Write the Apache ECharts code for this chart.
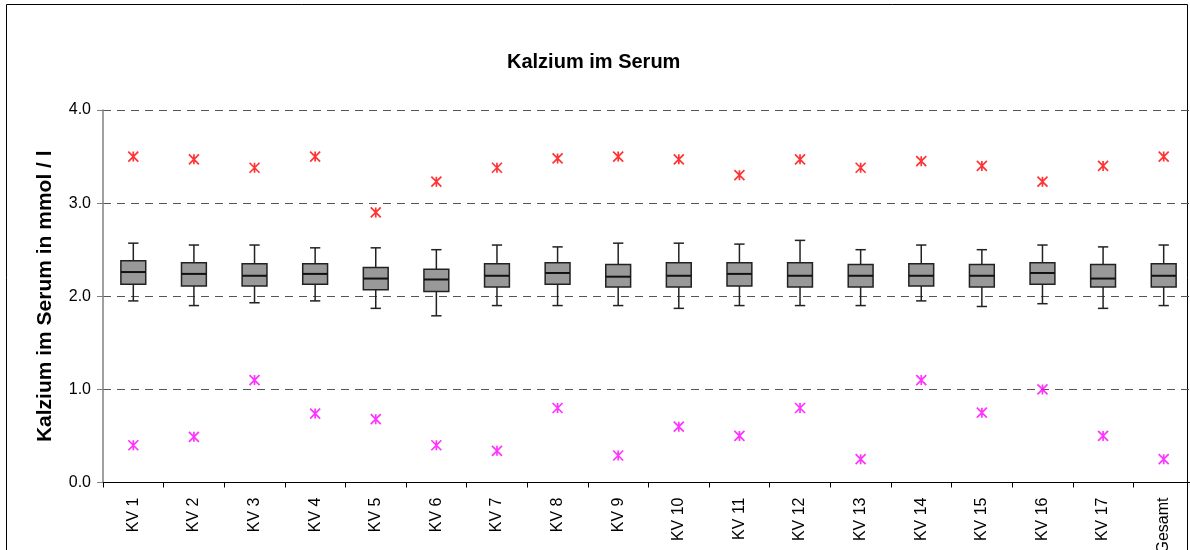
<!DOCTYPE html>
<html>
<head>
<meta charset="utf-8">
<script src="https://cdn.jsdelivr.net/npm/echarts@6/dist/echarts.min.js"></script>
<style>
  html, body { margin: 0; padding: 0; background: #fff; }
  #main { width: 1190px; height: 550px; }
</style>
</head>
<body>
<div id="main"></div>
<script>
var categories = ['KV 1', 'KV 2', 'KV 3', 'KV 4', 'KV 5', 'KV 6', 'KV 7', 'KV 8', 'KV 9',
  'KV 10', 'KV 11', 'KV 12', 'KV 13', 'KV 14', 'KV 15', 'KV 16', 'KV 17', 'Gesamt'];

// box plot parts, mmol / l
var whiskerHigh = [2.57, 2.55, 2.55, 2.52, 2.52, 2.50, 2.55, 2.53, 2.57, 2.57, 2.56, 2.60, 2.50, 2.55, 2.50, 2.55, 2.53, 2.55];
var q3 = [2.38, 2.36, 2.35, 2.35, 2.31, 2.29, 2.35, 2.36, 2.34, 2.36, 2.36, 2.36, 2.34, 2.35, 2.34, 2.36, 2.34, 2.35];
var median = [2.26, 2.24, 2.22, 2.24, 2.19, 2.18, 2.22, 2.25, 2.21, 2.22, 2.24, 2.22, 2.22, 2.22, 2.22, 2.25, 2.19, 2.22];
var q1 = [2.13, 2.11, 2.11, 2.13, 2.07, 2.05, 2.10, 2.13, 2.10, 2.10, 2.11, 2.10, 2.10, 2.11, 2.10, 2.13, 2.10, 2.10];
var whiskerLow = [1.95, 1.90, 1.93, 1.95, 1.87, 1.79, 1.90, 1.90, 1.90, 1.87, 1.90, 1.90, 1.90, 1.95, 1.89, 1.92, 1.87, 1.90];

// extreme values
var maxVals = [3.50, 3.47, 3.38, 3.50, 2.90, 3.23, 3.38, 3.48, 3.50, 3.47, 3.30, 3.47, 3.38, 3.45, 3.40, 3.23, 3.40, 3.50];
var minVals = [0.40, 0.49, 1.10, 0.74, 0.68, 0.40, 0.34, 0.80, 0.29, 0.60, 0.50, 0.80, 0.25, 1.10, 0.75, 1.00, 0.50, 0.25];

var yTicks = [0, 1, 2, 3, 4];

var chartDom = document.getElementById('main');
var myChart = echarts.init(chartDom);
var option;

var boxData = categories.map(function (c, i) {
  return [i, whiskerLow[i], q1[i], median[i], q3[i], whiskerHigh[i]];
});

var star = 'path://M0,0L10,10M0,10L10,0M5,0L5,10';

function renderBox(params, api) {
  var x = api.value(0);
  var pLow = api.coord([x, api.value(1)]);
  var pQ1 = api.coord([x, api.value(2)]);
  var pMed = api.coord([x, api.value(3)]);
  var pQ3 = api.coord([x, api.value(4)]);
  var pHigh = api.coord([x, api.value(5)]);
  var band = api.size([1, 0])[0];
  var half = band * 0.205;
  var cap = band * 0.085;
  var cx = pMed[0];
  var lineStyle = { stroke: '#222', lineWidth: 1.5 };
  return {
    type: 'group',
    children: [
      { type: 'line', shape: { x1: cx, y1: pQ3[1], x2: cx, y2: pHigh[1] }, style: lineStyle },
      { type: 'line', shape: { x1: cx, y1: pQ1[1], x2: cx, y2: pLow[1] }, style: lineStyle },
      { type: 'line', shape: { x1: cx - cap, y1: pHigh[1], x2: cx + cap, y2: pHigh[1] }, style: lineStyle },
      { type: 'line', shape: { x1: cx - cap, y1: pLow[1], x2: cx + cap, y2: pLow[1] }, style: lineStyle },
      {
        type: 'rect',
        shape: { x: cx - half, y: pQ3[1], width: half * 2, height: pQ1[1] - pQ3[1] },
        style: { fill: '#999999', stroke: '#222', lineWidth: 1.5 }
      },
      { type: 'line', shape: { x1: cx - half, y1: pMed[1], x2: cx + half, y2: pMed[1] }, style: { stroke: '#111', lineWidth: 2 } }
    ]
  };
}

option = {
  animation: false,
  textStyle: { fontFamily: 'Liberation Sans, Arial, sans-serif' },
  title: {
    text: 'Kalzium im Serum',
    left: 502,
    top: 47,
    textStyle: { fontSize: 20, fontWeight: 'bold', color: '#000', fontFamily: 'Liberation Sans' }
  },
  graphic: [
    {
      type: 'rect',
      silent: true,
      shape: { x: 6.5, y: 4.5, width: 1181, height: 600 },
      style: { fill: 'none', stroke: '#000', lineWidth: 1 }
    }
  ],
  grid: {
    left: 103,
    top: 110,
    width: 1091,
    height: 372.5,
    containLabel: false,
    outerBoundsMode: 'none'
  },
  xAxis: {
    type: 'category',
    data: categories,
    boundaryGap: true,
    axisLine: { lineStyle: { color: '#000', width: 1 } },
    axisTick: { show: true, length: 5, lineStyle: { color: '#000' } },
    axisLabel: {
      rotate: 90,
      margin: 15,
      fontSize: 16,
      color: '#000',
      interval: 0,
      fontFamily: 'Liberation Sans'
    },
    splitLine: { show: false }
  },
  yAxis: {
    type: 'value',
    min: 0,
    max: 4,
    interval: 1,
    name: 'Kalzium im Serum in mmol / l',
    nameLocation: 'middle',
    nameGap: 47,
    nameRotate: 90,
    nameTextStyle: { fontSize: 21, fontWeight: 'bold', color: '#000', fontFamily: 'Liberation Sans' },
    axisLine: { show: true, lineStyle: { color: '#808080', width: 1.5 } },
    axisTick: { show: true, length: 6, lineStyle: { color: '#808080' } },
    axisLabel: {
      fontSize: 16,
      color: '#000',
      margin: 12,
      fontFamily: 'Liberation Sans',
      formatter: function (v) { return yTicks.indexOf(v) >= 0 ? v.toFixed(1) : ''; }
    },
    splitLine: {
      show: true,
      lineStyle: { color: '#555', type: [8, 6], width: 1 }
    }
  },
  series: [
    {
      type: 'custom',
      name: 'box',
      renderItem: renderBox,
      encode: { x: 0, y: [1, 2, 3, 4, 5] },
      data: boxData,
      z: 3
    },
    {
      type: 'scatter',
      name: 'max',
      data: maxVals,
      symbol: star,
      symbolSize: 10,
      itemStyle: { color: 'none', borderColor: '#ff0000', borderWidth: 1.7 },
      z: 4
    },
    {
      type: 'scatter',
      name: 'min',
      data: minVals,
      symbol: star,
      symbolSize: 10,
      itemStyle: { color: 'none', borderColor: '#ff00ff', borderWidth: 1.7 },
      z: 4
    }
  ]
};

option && myChart.setOption(option);
</script>
</body>
</html>
